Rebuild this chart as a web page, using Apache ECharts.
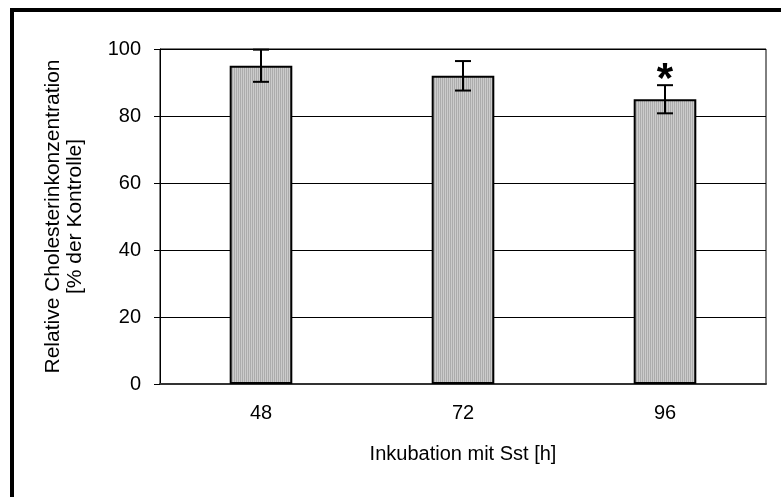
<!DOCTYPE html>
<html>
<head>
<meta charset="utf-8">
<script src="https://cdn.jsdelivr.net/npm/echarts@6/dist/echarts.min.js"></script>
<style>
  html, body { margin: 0; padding: 0; background: #fff; }
  #chart { width: 781px; height: 497px; }
</style>
</head>
<body>
<div id="chart"></div>
<script>
const categories = ['48', '72', '96'];
const means = [95, 92, 85];
const errors = [4.8, 4.4, 4.2];
const marks = ['', '', '*'];
const yTicks = [0, 20, 40, 60, 80, 100];

// vertical stripe fill like the original bars
const makeStripes = () => {
  const c = document.createElement('canvas');
  c.width = 4;
  c.height = 4;
  const ctx = c.getContext('2d');
  ctx.fillStyle = '#cccccc';
  ctx.fillRect(0, 0, 4, 4);
  ctx.fillStyle = '#acacac';
  ctx.fillRect(0, 0, 1, 4);
  ctx.fillRect(2, 0, 1, 4);
  return c;
};

const chart = echarts.init(document.getElementById('chart'));
const font = 'Liberation Sans, Arial, sans-serif';

const option = {
  animation: false,
  graphic: [
    {
      type: 'rect',
      shape: { x: 12, y: 10, width: 820, height: 540 },
      style: { fill: 'none', stroke: '#000', lineWidth: 4 }
    }
  ],
  grid: { left: 160, right: 15, top: 49, bottom: 113, show: true, borderColor: '#000', borderWidth: 1 },
  xAxis: {
    type: 'category',
    data: categories,
    name: 'Inkubation mit Sst [h]',
    nameLocation: 'middle',
    nameGap: 60,
    nameTextStyle: { fontFamily: font, fontSize: 20, color: '#000' },
    axisLine: { lineStyle: { color: '#333', width: 2 } },
    axisTick: { length: 6, lineStyle: { color: '#000', width: 1 } },
    axisLabel: { fontFamily: font, fontSize: 20, color: '#000', margin: 19 }
  },
  yAxis: {
    type: 'value',
    min: yTicks[0],
    max: yTicks[yTicks.length - 1],
    interval: 20,
    name: 'Relative Cholesterinkonzentration\n[% der Kontrolle]',
    nameLocation: 'middle',
    nameGap: 74,
    nameTextStyle: { fontFamily: font, fontSize: 21, color: '#000', lineHeight: 22 },
    axisLine: { show: true, lineStyle: { color: '#000', width: 1 } },
    axisTick: { show: true, length: 6, lineStyle: { color: '#000' } },
    axisLabel: { fontFamily: font, fontSize: 20, color: '#000', margin: 19 },
    splitLine: { lineStyle: { color: '#000', width: 1 } }
  },
  series: [
    {
      type: 'bar',
      data: means,
      barWidth: '31%',
      itemStyle: {
        color: { image: makeStripes(), repeat: 'repeat' },
        borderColor: '#000',
        borderWidth: 2
      },
      z: 2
    },
    {
      type: 'custom',
      data: means.map((m, i) => [i, m, errors[i]]),
      z: 3,
      renderItem: (params, api) => {
        const i = api.value(0);
        const m = api.value(1);
        const e = api.value(2);
        const top = api.coord([i, m + e]);
        const bot = api.coord([i, m - e]);
        const hw = 8;
        const children = [
          { type: 'line', shape: { x1: top[0], y1: top[1], x2: bot[0], y2: bot[1] }, style: { stroke: '#000', lineWidth: 2 } },
          { type: 'line', shape: { x1: top[0] - hw, y1: top[1], x2: top[0] + hw, y2: top[1] }, style: { stroke: '#000', lineWidth: 2 } },
          { type: 'line', shape: { x1: bot[0] - hw, y1: bot[1], x2: bot[0] + hw, y2: bot[1] }, style: { stroke: '#000', lineWidth: 2 } }
        ];
        if (marks[i]) {
          children.push({
            type: 'text',
            style: {
              text: marks[i], x: top[0], y: top[1] + 16,
              align: 'center', verticalAlign: 'bottom',
              font: 'bold 42px ' + font, fill: '#000'
            }
          });
        }
        return { type: 'group', children };
      }
    }
  ]
};

chart.setOption(option);
</script>
</body>
</html>
